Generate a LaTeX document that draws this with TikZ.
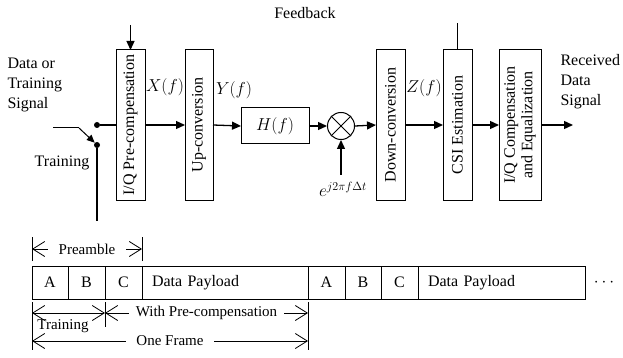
\documentclass[tikz,border=0pt]{standalone}
\usepackage{fontspec}
\setmainfont{Liberation Serif}
\usetikzlibrary{positioning, arrows.meta}

\begin{document}
\begin{tikzpicture}[
x=1pt, y=-1pt,
font=\fontsize{16}{20}\selectfont,
blk/.style={rectangle, draw=black, line width=1pt, minimum width=29, minimum height=150, inner sep=0pt, outer sep=0pt},
cell/.style={rectangle, draw=black, line width=0.8pt, minimum width=37, minimum height=33, inner sep=0pt, outer sep=0pt},
swdot/.style={circle, fill=black, inner sep=0pt, minimum size=6},
sig/.style={-{Triangle[length=9pt,width=8pt]}, line width=1.3pt},
dim/.style={{Straight Barb[length=12pt,width=15pt,line width=0.8pt]}-{Straight Barb[length=12pt,width=15pt,line width=0.8pt]}, line width=0.8pt},
dimtext/.style={fill=white, inner xsep=3pt, inner ysep=1pt, font=\fontsize{15}{18}\selectfont}
]
\useasboundingbox (0,0) rectangle (623,358);

%Nodes
\node (fb) at (305,13) {Feedback};
\node[blk] (pre) at (130.5,125) {\rotatebox{90}{I/Q Pre-compensation}};
\node[blk, minimum width=28] (up) at (199,125) {\rotatebox{90}{Up-conversion}};
\node[blk, minimum width=68, minimum height=36] (H) at (275,126) {\fontsize{18}{20}\selectfont$H(f)$};
\node[circle, draw=black, line width=1pt, minimum size=27, inner sep=0pt] (mix) at (341,126) {};
\node[blk] (down) at (390.5,125) {\rotatebox{90}{Down-conversion}};
\node[blk] (csi) at (457.5,125) {\rotatebox{90}{CSI Estimation}};
\node[blk, minimum width=42] (iq) at (520,125) {\rotatebox{90}{\shortstack{I/Q Compensation\\and Equalization}}};

\node[font=\fontsize{18}{20}\selectfont] (X) at (165,87) {$X(f)$};
\node[font=\fontsize{18}{20}\selectfont] (Y) at (234,90) {$Y(f)$};
\node[font=\fontsize{18}{20}\selectfont] (Z) at (424,88) {$Z(f)$};
\node (eterm) at (343,189) {\fontsize{17}{18}\selectfont$e^{j2\pi f\Delta t}$};

\node[align=left, anchor=west] (src) at (4,85) {Data or\\Training\\Signal};
\node (trn) at (62,163) {Training};
\node[align=left, anchor=west] (rx) at (557,82) {Received\\Data\\Signal};

\node[swdot] (sw1) at (97,125) {};
\node[swdot] (sw2) at (97,145) {};

\coordinate (in) at (53,128);
\coordinate (knee) at (79,128);
\coordinate (gnd) at (97,221);
\coordinate (fbin) at (130.5,25);
\coordinate (fbout) at (457.5,23);
\coordinate (lo) at (341,175);
\coordinate (out) at (573,125);

%Lines
\draw[line width=1pt] (in) -- (knee);
\draw[line width=1pt, -{Triangle[length=8pt,width=7pt]}] (knee) -- (sw2.north west);
\draw[line width=1.3pt] (sw1) -- (pre.west);
\draw[line width=1.3pt] (sw2) -- (gnd);
\draw[sig] (fbin) -- (pre.north);
\draw[line width=1pt] (csi.north) -- (fbout);
\draw[sig] (pre.east) -- (up.west);
\draw[sig] (up.east) -- (H.west);
\draw[sig] (H.east) -- (mix.west);
\draw[line width=1pt] (mix.north west) -- (mix.south east);
\draw[line width=1pt] (mix.north east) -- (mix.south west);
\draw[sig] (lo) -- (mix.south);
\draw[sig] (mix.east) -- (down.west);
\draw[sig] (down.east) -- (csi.west);
\draw[sig] (csi.east) -- (iq.west);
\draw[sig] (iq.east) -- (out);

%Frame
\node[cell, minimum width=36] (A1) at (50,282.5) {A};
\node[cell, right=0pt of A1] (B1) {B};
\node[cell, right=0pt of B1] (C1) {C};
\node[cell, right=0pt of C1, minimum width=166, text width=146, inner xsep=10pt, align=left] (P1) {Data Payload};
\node[cell, right=0pt of P1] (A2) {A};
\node[cell, right=0pt of A2, minimum width=36] (B2) {B};
\node[cell, right=0pt of B2] (C2) {C};
\node[cell, right=0pt of C2, minimum width=167, text width=147, inner xsep=10pt, align=left] (P2) {Data Payload};
\node (more) at (604,283) {$\cdots$};

\coordinate (preL) at (32,249);
\coordinate (preR) at (142,249);
\coordinate (trL) at (32,313);
\coordinate (trR) at (105,313);
\coordinate (wpR) at (308,313);
\coordinate (ofL) at (32,341);
\coordinate (ofR) at (308,341);

\draw[line width=0.8pt] (A1.north west) ++(0,-5) -- ++(0,-24);
\draw[line width=0.8pt] (C1.north east) ++(0,-5) -- ++(0,-24);
\draw[line width=0.8pt] (A1.south west) ++(0,3) -- ++(0,48);
\draw[line width=0.8pt] (B1.south east) ++(0,3) -- ++(0,25);
\draw[line width=0.8pt] (P1.south east) ++(0,3) -- ++(0,48);

\draw[dim] (preL) -- node[dimtext, inner xsep=11pt] {Preamble} (preR);
\draw[dim] (trL) -- (trR);
\node[dimtext, fill=none] (trtext) at (63,326) {Training};
\draw[dim] (trR) -- node[dimtext, inner xsep=7pt] {With Pre-compensation} (wpR);
\draw[dim] (ofL) -- node[dimtext, inner xsep=10pt] {One Frame} (ofR);
\end{tikzpicture}
\end{document}
